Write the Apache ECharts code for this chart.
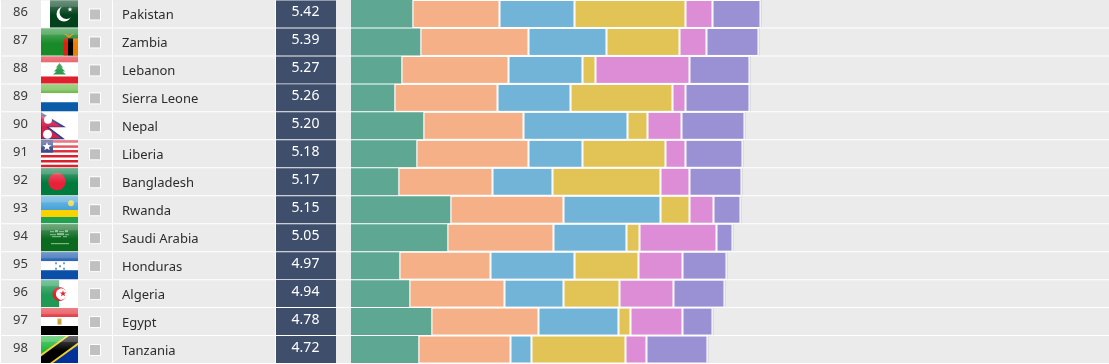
<!DOCTYPE html>
<html><head><meta charset="utf-8">
<style>html,body{margin:0;padding:0;background:#ebebeb;overflow:hidden}#c{width:1109px;height:364px}</style>
<script src="https://cdn.jsdelivr.net/npm/echarts@6/dist/echarts.min.js"></script>
</head><body><div id="c"></div>
<script>
const ranks = [86,87,88,89,90,91,92,93,94,95,96,97,98];
const countries = ['Pakistan','Zambia','Lebanon','Sierra Leone','Nepal','Liberia','Bangladesh','Rwanda','Saudi Arabia','Honduras','Algeria','Egypt','Tanzania'];
const scores = ['5.42','5.39','5.27','5.26','5.20','5.18','5.17','5.15','5.05','4.97','4.94','4.78','4.72'];
const seg1 = [.8146,.9205,.6689,.5762,.9603,.8675,.6291,1.3179,1.2781,.6424,.7748,1.0662,.8940];
const seg2 = [1.1523,1.4305,1.4172,1.3642,1.3245,1.4834,1.2450,1.4967,1.4040,1.2053,1.2583,1.4172,1.2185];
const seg3 = [.9934,1.0331,.9801,.9669,1.3775,.7152,.7947,1.2848,.9669,1.1126,.7815,1.0596,.2781];
const seg4 = [1.4702,.9669,.1722,1.3510,.2649,1.0993,1.4305,.3841,.1722,.8477,.7417,.1589,1.2450];
const seg5 = [.3576,.3576,1.2450,.1722,.4503,.2649,.3841,.3179,1.0199,.5828,.7152,.6887,.2781];
const seg6 = [.6358,.6887,.7947,.8477,.8344,.7550,.6887,.3576,.2119,.5828,.6755,.3974,.8079];
const rowEnd = [.02,.02,.02,.02,.02,.02,.02,.02,.02,.02,.02,.02,.02];
const segColors = ['#5da793','#f6b087','#71b4d8','#e2c355','#dd8cd6','#9a90d4'];

const R=(x,y,w,h,c)=>({type:'rect',shape:{x,y,width:w,height:h},style:{fill:c}});
const P=(pts,c)=>({type:'polygon',shape:{points:pts},style:{fill:c}});
const C=(cx,cy,r,c)=>({type:'circle',shape:{cx,cy,r},style:{fill:c}});
const S=(cx,cy,r,c)=>{const pts=[];for(let k=0;k<10;k++){const a=-Math.PI/2+k*Math.PI/5,q=k%2?r*.42:r;pts.push([cx+q*Math.cos(a),cy+q*Math.sin(a)]);}return P(pts,c);};
const W=37,H=27;
const flags={
 Pakistan:()=>[R(0,0,9,H,'#fff'),R(9,0,28,H,'#01411c'),C(23,13.5,7.5,'#fff'),C(25.5,11.5,7,'#01411c'),S(29,9,2.6,'#fff')],
 Zambia:()=>[R(0,0,W,H,'#198a2a'),R(22.5,10,4.6,17,'#de2010'),R(27.1,10,5,17,'#000'),R(32.1,10,4.9,17,'#ef7d00'),P([[23,5],[28,7],[33,5],[30,8],[28,9.5],[26,8]],'#ef7d00')],
 Lebanon:()=>[R(0,0,W,6,'#e0202c'),R(0,6,W,14,'#fff'),R(0,20,W,7,'#e0202c'),P([[18.5,6.5],[22,11],[20.5,11],[24,15],[21.5,15],[25,18],[12,18],[15.5,15],[13,15],[16.5,11],[15,11]],'#2f9a4e')],
 'Sierra Leone':()=>[R(0,0,W,9,'#5cb030'),R(0,9,W,9,'#fff'),R(0,18,W,9,'#0a5ba8')],
 Nepal:()=>[R(0,0,W,H,'#fff'),P([[0,0],[25,15],[8,15],[24,27],[0,27]],'#2a3f8f'),P([[1,3],[21,14.5],[5,14.5],[20,26],[1,26]],'#d6204a'),C(7,7.5,4,'#fff'),C(6.5,22,4.5,'#fff')],
 Liberia:()=>{const a=[R(0,0,W,H,'#fff')];for(let k=0;k<11;k+=2)a.push(R(0,k*H/11,W,H/11,'#d8202f'));a.push(R(0,0,12,12.3,'#2a3b80'),S(6,6.3,4.6,'#fff'));return a;},
 Bangladesh:()=>[R(0,0,W,H,'#007a3d'),C(16,13.3,8.7,'#e8203a')],
 Rwanda:()=>[R(0,0,W,13.7,'#3f9fd8'),R(0,13.7,W,7,'#fad201'),R(0,20.7,W,6.3,'#20a050'),C(30,7,3,'#e6d84a')],
 'Saudi Arabia':()=>{const a=[R(0,0,W,H,'#0a6a1e')];[[9,7,4,1],[14,6,3,2],[18,7,5,1],[24,6,3,2],[9,10,6,1],[16,9,7,2],[24,10,4,1],[11,12,9,1],[22,12,4,1]].forEach(d=>a.push({...R(d[0],d[1],d[2],d[3],'#cfe3cf'),style:{fill:'#cfe3cf',opacity:.65}}));a.push({...R(10,19,18,1,'#dbe9db'),style:{fill:'#dbe9db',opacity:.7}});return a;},
 Honduras:()=>{const a=[R(0,0,W,9,'#0a4fa8'),R(0,9,W,9,'#fff'),R(0,18,W,9,'#0a4fa8')];[[14,10],[22,10],[18,13],[14,15.5],[22,15.5]].forEach(d=>a.push(R(d[0],d[1],2,2,'#6a9ad8')));return a;},
 Algeria:()=>[R(0,0,18.3,H,'#1e9a54'),R(18.3,0,18.7,H,'#fff'),C(18.5,14,7,'#e0202c'),C(20.5,14,5.6,'#fff'),P([[18.3,8.9],[20.5,8.4],[20.5,19.6],[18.3,19.1]],'#fff'),C(18.5,14,0.1,'#fff'),S(22,13.5,3.4,'#e0202c')],
 Egypt:()=>[R(0,0,W,9,'#e0242c'),R(0,9,W,9,'#fff'),R(0,18,W,9,'#000'),R(16.5,10.5,4,6,'#c6a23a')],
 Tanzania:()=>[R(0,0,W,H,'#1eb53a'),P([[W,0],[W,H],[0,H]],'#00309a'),P([[0,H],[0,H-9],[W-12,0],[W,0],[W,9],[12,H]],'#f0d020'),P([[0,H],[0,H-6.5],[W-9,0],[W,0],[W,6.5],[9,H]],'#000')]
};
const gloss=()=>({type:'rect',shape:{x:0,y:0,width:W,height:H},style:{fill:{type:'linear',x:0,y:0,x2:0,y2:1,colorStops:[{offset:0,color:'rgba(255,255,255,.42)'},{offset:.22,color:'rgba(255,255,255,.32)'},{offset:.24,color:'rgba(255,255,255,.18)'},{offset:.55,color:'rgba(255,255,255,0)'},{offset:1,color:'rgba(255,255,255,0)'}]}}});

function renderRow(params,api){
  const i=api.value(1), top=api.coord([0,i])[1]-13.5;
  const t=(x,y,text,size,color,align)=>({type:'text',x,y:top+y,style:{text,font:size+'px "Noto Sans"',fill:color,align:align,verticalAlign:'middle'}});
  const name=countries[i];
  return {type:'group',children:[
    R(0,top+27,1109,1,'#fff'),
    R(0,top,1,27,'#fff'),R(112,top,1,27,'#fff'),R(275,top,1,27,'#fff'),
    R(276,top,60,27,'#3e4e6b'),
    {type:'group',x:41,y:top,children:flags[name]().concat([gloss()])},
    R(89,top+8,12,12,'#fff'),R(90,top+9,10,10,'#c0c0c0'),
    t(20.5,12,String(ranks[i]),13,'#3a3a3a','center'),
    t(122,15,name,13,'#2c2c2c','left'),
    t(305.5,11.5,scores[i],14,'#fff','center')
  ]};
}
const segs=[seg1,seg2,seg3,seg4,seg5,seg6];
const series=segs.map((d,k)=>({type:'bar',stack:'s',data:d,barWidth:28,z:3,
  itemStyle:k===0?{color:segColors[k]}:{color:segColors[k],borderColor:'#fff',borderWidth:1},silent:true}));
series.push({type:'bar',stack:'s',data:rowEnd,barWidth:28,z:2,itemStyle:{color:'#dcdcdc'},silent:true});
series.push({type:'custom',data:countries.map((c,i)=>[0,i]),renderItem:renderRow,z:5,silent:true,clip:false,encode:{x:0,y:1}});
const chart=echarts.init(document.getElementById('c'),null,{renderer:'canvas'});
chart.setOption({animation:false,backgroundColor:'#ebebeb',
  grid:{left:0,right:0,top:-0.5,height:364},
  xAxis:{type:'value',min:-351/75.5,max:758/75.5,show:false},
  yAxis:{type:'category',inverse:true,data:countries,show:false},
  series});
</script></body></html>
